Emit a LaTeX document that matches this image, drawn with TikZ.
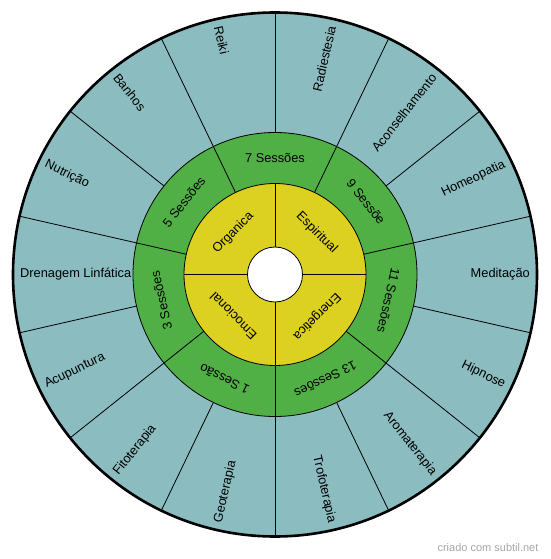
\documentclass[tikz,border=0pt]{standalone}
\usepackage{fontspec}
\setmainfont{Liberation Sans}

\definecolor{tealring}{HTML}{8ABCC0}
\definecolor{greenring}{HTML}{50B045}
\definecolor{yellowring}{HTML}{DCD021}

\tikzset{
  lbl/.style={inner sep=0pt, font=\fontsize{12.8}{15}\selectfont},
  outerlbl/.style={lbl},
  divider/.style={draw=black, line width=0.8pt}
}

\begin{document}
\begin{tikzpicture}[x=1pt,y=1pt]
  \useasboundingbox (-275,-284.5) rectangle (275,274.5);

  \draw[line width=2.6pt, fill=tealring] (0,0) circle (262);
  \foreach \a in {12.857,38.571,64.286,90,115.714,141.429,167.143,192.857,218.571,244.286,270,295.714,321.429,347.143}
    \draw[divider] (\a:142) -- (\a:262);

  \draw[divider, fill=greenring] (0,0) circle (142);
  \foreach \a in {12.857,64.286,115.714,167.143,218.571,270,321.429}
    \draw[divider] (\a:91) -- (\a:142);

  \draw[divider, fill=yellowring] (0,0) circle (91);
  \foreach \a in {0,90,180,270}
    \draw[divider] (\a:27.5) -- (\a:91);

  \draw[divider, fill=white] (0,0) circle (27.5);

  \node[outerlbl, anchor=east, rotate=0] (meditacao) at (0:255) {Meditação};
  \node[outerlbl, anchor=east, rotate=25.714] (homeopatia) at (25.714:255) {Homeopatia};
  \node[outerlbl, anchor=east, rotate=51.429] (aconselhamento) at (51.429:255) {Aconselhamento};
  \node[outerlbl, anchor=east, rotate=77.143] (radiestesia) at (77.143:255) {Radiestesia};
  \node[outerlbl, anchor=west, rotate=-77.143] (reiki) at (102.857:255) {Reiki};
  \node[outerlbl, anchor=west, rotate=-51.429] (banhos) at (128.571:255) {Banhos};
  \node[outerlbl, anchor=west, rotate=-25.714] (nutricao) at (154.286:255) {Nutrição};
  \node[outerlbl, anchor=west, rotate=0] (drenagem) at (180:255) {Drenagem Linfática};
  \node[outerlbl, anchor=west, rotate=25.714] (acupuntura) at (205.714:255) {Acupuntura};
  \node[outerlbl, anchor=west, rotate=51.429] (fitoterapia) at (231.429:255) {Fitoterapia};
  \node[outerlbl, anchor=west, rotate=77.143] (geoterapia) at (257.143:255) {Geoterapia};
  \node[outerlbl, anchor=east, rotate=-77.143] (trofoterapia) at (282.857:255) {Trofoterapia};
  \node[outerlbl, anchor=east, rotate=-51.429] (aromaterapia) at (308.571:255) {Aromaterapia};
  \node[outerlbl, anchor=east, rotate=-25.714] (hipnose) at (334.286:255) {Hipnose};

  \node[lbl, rotate=0] (s7) at (90:116.5) {7 Sessões};
  \node[lbl, rotate=-51.429] (s9) at (38.571:116.5) {9 Sessõe};
  \node[lbl, rotate=257.143] (s11) at (347.143:116.5) {11 Sessões};
  \node[lbl, rotate=205.714] (s13) at (295.714:116.5) {13 Sessões};
  \node[lbl, rotate=154.286] (s1) at (244.286:116.5) {1 Sessão};
  \node[lbl, rotate=102.857] (s3) at (192.857:116.5) {3 Sessões};
  \node[lbl, rotate=51.429] (s5) at (141.429:116.5) {5 Sessões};

  \node[lbl, rotate=45] (organica) at (135:59) {Organica};
  \node[lbl, rotate=-45] (espiritual) at (45:59) {Espiritual};
  \node[lbl, rotate=225] (energetica) at (315:59) {Energetica};
  \node[lbl, rotate=135] (emocional) at (225:59) {Emocional};

  \node[inner sep=0pt, text=black!35, font=\fontsize{11}{13}\selectfont] (credit) at (213,-273) {criado com subtil.net};
\end{tikzpicture}
\end{document}
